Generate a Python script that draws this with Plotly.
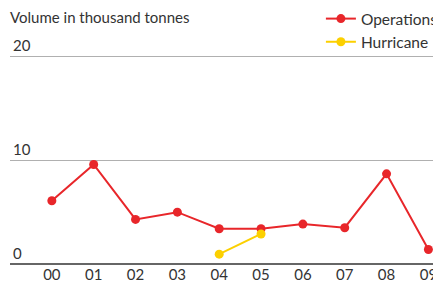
import plotly.graph_objects as go

years = ["00", "01", "02", "03", "04", "05", "06", "07", "08", "09"]
operations = [6.1, 9.6, 4.3, 5.0, 3.4, 3.4, 3.85, 3.5, 8.7, 1.4]
hurricane_years = ["04", "05"]
hurricane = [0.95, 2.9]
y_ticks = [0, 10, 20]

RED = "#e8262a"
YELLOW = "#fcd000"
FONT = "Lato"
TXT = "#333333"

fig = go.Figure()
fig.add_trace(go.Scatter(x=years, y=operations, name="Operations", mode="lines+markers",
                         line=dict(color=RED, width=2), marker=dict(color=RED, size=9)))
fig.add_trace(go.Scatter(x=hurricane_years, y=hurricane, name="Hurricane", mode="lines+markers",
                         line=dict(color=YELLOW, width=2), marker=dict(color=YELLOW, size=9)))

fig.update_layout(
    width=433, height=289,
    margin=dict(l=10, r=0, t=36, b=25, autoexpand=False),
    paper_bgcolor="white", plot_bgcolor="white",
    font=dict(family=FONT, size=15, color=TXT),
    title=dict(text="Volume in thousand tonnes", x=10/433, xanchor="left", xref="container",
               y=1 - 18/289, yanchor="middle", yref="container",
               font=dict(family=FONT, size=15, color=TXT)),
    showlegend=True,
    legend=dict(x=0.735, y=1.149, xanchor="left", yanchor="top", bgcolor="rgba(0,0,0,0)",
                font=dict(family=FONT, size=15.5, color=TXT), itemwidth=30),
    xaxis=dict(type="category", categoryorder="array", categoryarray=years,
               range=[-1.0, 9.11], showgrid=False, zeroline=False, showline=False,
               ticks="", tickfont=dict(family=FONT, size=15, color=TXT)),
    yaxis=dict(range=[0, 22], tickvals=y_ticks, ticktext=[str(v) for v in y_ticks],
               showgrid=True, gridcolor="#b0b0b0", gridwidth=1, zeroline=True,
               zerolinecolor="#666666", zerolinewidth=2, showline=False, ticks="",
               ticklabelposition="inside top", tickfont=dict(family=FONT, size=15, color=TXT)),
)
fig.write_html("out.html", config={"displayModeBar": False},
               post_script="document.body.style.margin='0';")
